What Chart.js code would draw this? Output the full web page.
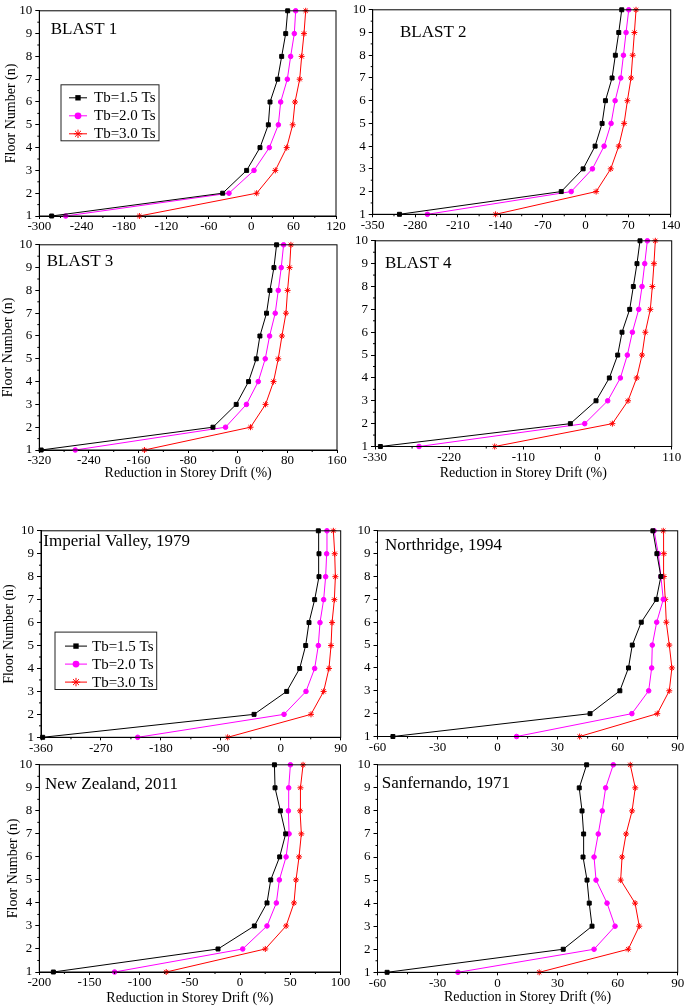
<!DOCTYPE html>
<html>
<head>
<meta charset="utf-8">
<script src="https://cdn.jsdelivr.net/npm/chart.js@4.4.0/dist/chart.umd.min.js"></script>
<style>
  body { margin: 0; background: #fff; width: 685px; height: 1007px; position: relative; overflow: hidden; }
  canvas { position: absolute; }
</style>
</head>
<body>
<script>
// ---- data ----
const floors = [1, 2, 3, 4, 5, 6, 7, 8, 9, 10];
const seriesNames = ['Tb=1.5 Ts', 'Tb=2.0 Ts', 'Tb=3.0 Ts'];
const panelTitles = ['BLAST 1', 'BLAST 2', 'BLAST 3', 'BLAST 4',
    'Imperial Valley, 1979', 'Northridge, 1994', 'New Zealand, 2011', 'Sanfernando, 1971'];
const xMins  = [-300, -350, -320, -330, -360, -60, -200, -60];
const xMaxs  = [120, 140, 160, 110, 90, 90, 100, 90];
const xSteps = [60, 70, 80, 110, 90, 30, 50, 30];

const blast1Tb15 = [-282.5, -40.4, -6.5, 12.4, 24.2, 26.6, 37.4, 43.1, 48.8, 51.6];
const blast1Tb20 = [-262.6, -31.5, 3.9, 25.6, 38.4, 41.7, 51.1, 55.8, 61, 62.9];
const blast1Tb30 = [-158.3, 7.7, 34.1, 50.2, 58.7, 62, 68.6, 71.4, 74.7, 77.1];

const blast2Tb15 = [-306, -40, -4, 15.7, 27.2, 32.7, 43.6, 49, 54.6, 59.5];
const blast2Tb20 = [-260, -23.6, 11.3, 30.5, 42, 48.6, 57.9, 62.3, 66.6, 71];
const blast2Tb30 = [-148, 17.4, 41.4, 54.6, 63.4, 68.8, 74.8, 77.5, 80.3, 83];

const blast3Tb15 = [-317, -40, -2.5, 17.4, 29.8, 35.7, 46.4, 51.8, 58.3, 62.6];
const blast3Tb20 = [-262, -19.7, 14, 33, 44.3, 51.3, 60.4, 65.3, 70.1, 73.9];
const blast3Tb30 = [-150.5, 20.6, 44.8, 57.7, 65.3, 71.2, 77.7, 80.3, 83.6, 85.7];

const blast4Tb15 = [-322, -40.3, -2.2, 17.5, 29.9, 36.3, 47.7, 53.1, 58.5, 63];
const blast4Tb20 = [-264.7, -19, 15.1, 33.9, 44.2, 51.7, 61.1, 66, 70, 73.9];
const blast4Tb30 = [-152.5, 22, 45.2, 58.1, 66, 70.9, 78.3, 81.3, 83.7, 85.7];

const imperialTb15 = [-357.5, -40.1, 8.9, 28.4, 37.4, 42.4, 50.9, 57.4, 57.4, 56.4];
const imperialTb20 = [-214.8, 4.9, 37.9, 50.9, 56.4, 58.9, 64.4, 67.4, 68.9, 69.4];
const imperialTb30 = [-79.7, 45.4, 64.4, 72.4, 75.5, 77, 80.5, 82, 81, 79];

const northridgeTb15 = [-52.3, 46.2, 61.1, 65.4, 67.3, 71.8, 79.3, 81.6, 79.6, 77.6];
const northridgeTb20 = [9.5, 67.1, 75.5, 77, 77.3, 79.5, 82.8, 81.6, 80.3, 78.2];
const northridgeTb30 = [41, 79.8, 85.8, 87.1, 85.8, 84.3, 83.8, 83.1, 83.1, 82.8];

const newZealandTb15 = [-186, -22, 14.2, 26.8, 30.5, 39.4, 45.4, 40.1, 34.8, 34.2];
const newZealandTb20 = [-125, 2.6, 26.8, 36.1, 39.1, 45.8, 48.8, 48.1, 48.4, 50.1];
const newZealandTb30 = [-73.6, 25.1, 45.8, 53.7, 55.7, 58.7, 61, 59.7, 60.1, 62.7];

const sanfernandoTb15 = [-55.2, 32.8, 47.2, 45.8, 44.7, 42.7, 43, 42.2, 40.8, 44.5];
const sanfernandoTb20 = [-19.8, 48.2, 58.7, 54.7, 49.2, 48.2, 50.3, 52.3, 54, 57.8];
const sanfernandoTb30 = [20.8, 65.3, 70.8, 68.7, 61.5, 62.2, 64.2, 67.2, 68.8, 66.3];

const panelSeries = [
    [blast1Tb15, blast1Tb20, blast1Tb30],
    [blast2Tb15, blast2Tb20, blast2Tb30],
    [blast3Tb15, blast3Tb20, blast3Tb30],
    [blast4Tb15, blast4Tb20, blast4Tb30],
    [imperialTb15, imperialTb20, imperialTb30],
    [northridgeTb15, northridgeTb20, northridgeTb30],
    [newZealandTb15, newZealandTb20, newZealandTb30],
    [sanfernandoTb15, sanfernandoTb20, sanfernandoTb30]
];

// ---- styling / layout ----
const FONT = '"Liberation Serif", "Times New Roman", serif';
const colors = ['#000000', '#FF00FF', '#FF0000'];
const pointStyles = ['rect', 'circle', 'star'];
const pointRadii = [2.8, 2.3, 3];
const legendRadii = [3.8, 3.4, 4.2];

// plot-area rectangles in page pixels
const panels = [
    { l: 39.3, t: 8,     r: 336,   b: 216,   hx: 20,   yTitle: true,  yPad: 3.4, xTitle: false, dx: 11.4, dy: 23,
      legend: { dx: 21.7, dy: 74, w: 98, h: 56, first: 13, step: 18, lineDx: 8, lineLen: 18, gap: 7 } },
    { l: 372.7, t: 7,    r: 670.7, b: 214.3, hx: 20,   yTitle: false, xTitle: false, dx: 27.3, dy: 27 },
    { l: 39.3, t: 242.7, r: 337,   b: 450,   hx: 31.7, yTitle: true,  yPad: 0.4, xTitle: true, dx: 7.4, dy: 21.3 },
    { l: 375,  t: 238.5, r: 671.7, b: 446.5, hx: 35.2, yTitle: false, xTitle: true, dx: 10, dy: 27 },
    { l: 41,   t: 528,   r: 340.7, b: 737.3, hx: 20,   yTitle: true,  yPad: 0.7, xTitle: false, dx: 2.3, dy: 15.3,
      legend: { dx: 14, dy: 101.3, w: 101.7, h: 57.4, first: 14, step: 18, lineDx: 10, lineLen: 22, gap: 5 } },
    { l: 377.5, t: 528.3, r: 677.7, b: 736.5, hx: 20,  yTitle: false, xTitle: false, dx: 7.5, dy: 19.4 },
    { l: 39.3, t: 762.7, r: 340.5, b: 972,   hx: 34.7, yTitle: true,  yPad: 5.2, xTitle: true, dx: 5.7, dy: 24 },
    { l: 377.5, t: 762.5, r: 677.7, b: 972.3, hx: 34.1, yTitle: false, xTitle: true, dx: 4.2, dy: 23 }
];

function drawMarker(ctx, style, x, y, r) {
    ctx.beginPath();
    if (style === 'rect') {
        const s = r / Math.SQRT2;
        ctx.rect(x - s, y - s, 2 * s, 2 * s);
        ctx.fill();
    } else if (style === 'circle') {
        ctx.arc(x, y, r, 0, Math.PI * 2);
        ctx.fill();
    } else {
        const d = r / Math.SQRT2;
        ctx.moveTo(x - r, y); ctx.lineTo(x + r, y);
        ctx.moveTo(x, y - r); ctx.lineTo(x, y + r);
        ctx.moveTo(x - d, y - d); ctx.lineTo(x + d, y + d);
        ctx.moveTo(x - d, y + d); ctx.lineTo(x + d, y - d);
        ctx.stroke();
    }
}

// frame, minor ticks, panel name and the boxed legend
const decorPlugin = {
    id: 'decor',
    afterDraw(chart, args, opts) {
        const ctx = chart.ctx;
        const a = chart.chartArea;
        const xs = chart.scales.x, ys = chart.scales.y;
        ctx.save();
        ctx.strokeStyle = '#000';
        ctx.lineWidth = 1;
        ctx.strokeRect(a.left, a.top, a.right - a.left, a.bottom - a.top);

        ctx.beginPath();
        for (let v = xs.min + opts.step / 2; v < xs.max; v += opts.step) {
            const px = xs.getPixelForValue(v);
            ctx.moveTo(px, a.bottom);
            ctx.lineTo(px, a.bottom + 2);
        }
        for (let v = ys.min + 0.5; v < ys.max; v += 1) {
            const py = ys.getPixelForValue(v);
            ctx.moveTo(a.left, py);
            ctx.lineTo(a.left - 2, py);
        }
        ctx.stroke();

        ctx.fillStyle = '#000';
        ctx.font = '17px ' + FONT;
        ctx.textBaseline = 'alphabetic';
        ctx.textAlign = 'left';
        ctx.fillText(opts.label, a.left + opts.dx, a.top + opts.dy);

        const lg = opts.legend;
        if (lg) {
            const bx = a.left + lg.dx, by = a.top + lg.dy;
            ctx.fillStyle = '#fff';
            ctx.fillRect(bx, by, lg.w, lg.h);
            ctx.strokeStyle = '#222';
            ctx.strokeRect(bx, by, lg.w, lg.h);
            ctx.font = '15px ' + FONT;
            ctx.textBaseline = 'middle';
            chart.data.datasets.forEach((ds, i) => {
                const cy = by + lg.first + i * lg.step;
                const x0 = bx + lg.lineDx, x1 = x0 + lg.lineLen;
                ctx.strokeStyle = ds.borderColor;
                ctx.fillStyle = ds.borderColor;
                ctx.beginPath();
                ctx.moveTo(x0, cy);
                ctx.lineTo(x1, cy);
                ctx.stroke();
                drawMarker(ctx, ds.pointStyle, (x0 + x1) / 2, cy, legendRadii[i]);
                ctx.fillStyle = '#000';
                ctx.fillText(ds.label, x1 + lg.gap, cy + 0.5);
            });
        }
        ctx.restore();
    }
};

panels.forEach((p, k) => {
    const left = p.yTitle ? 0 : Math.floor(p.l) - 32;
    const top = Math.floor(p.t) - 8;
    const right = Math.ceil(p.r) + 15;
    const bottom = Math.min(1007, Math.round(p.b + p.hx));
    const wy = p.l - left, padTop = p.t - top, padRight = right - p.r, hx = bottom - p.b;

    const canvas = document.createElement('canvas');
    canvas.width = right - left;
    canvas.height = bottom - top;
    canvas.style.left = left + 'px';
    canvas.style.top = top + 'px';
    document.body.appendChild(canvas);

    const datasets = panelSeries[k].map((vals, i) => ({
        label: seriesNames[i],
        data: floors.map((f, j) => ({ x: vals[j], y: f })),
        showLine: true,
        borderColor: colors[i],
        backgroundColor: colors[i],
        pointBackgroundColor: colors[i],
        pointBorderColor: colors[i],
        borderWidth: 1,
        pointBorderWidth: 1,
        pointStyle: pointStyles[i],
        pointRadius: pointRadii[i],
        tension: 0,
        clip: false
    }));

    new Chart(canvas.getContext('2d'), {
        type: 'scatter',
        data: { datasets },
        options: {
            responsive: false,
            animation: false,
            events: [],
            layout: { padding: { top: padTop, right: padRight, left: 0, bottom: 0 } },
            scales: {
                x: {
                    type: 'linear',
                    min: xMins[k],
                    max: xMaxs[k],
                    ticks: { stepSize: xSteps[k], autoSkip: false, maxRotation: 0, padding: 0,
                             color: '#000', font: { family: FONT, size: 13 } },
                    grid: { drawOnChartArea: false, drawTicks: true, tickLength: 3, color: '#000', tickColor: '#000' },
                    border: { display: true, color: '#000' },
                    title: { display: p.xTitle, text: 'Reduction in Storey Drift (%)', color: '#000',
                             font: { family: FONT, size: 14 }, padding: 0 },
                    afterFit(s) { s.height = hx; }
                },
                y: {
                    type: 'linear',
                    min: 1,
                    max: 10,
                    ticks: { stepSize: 1, autoSkip: false, padding: 3,
                             color: '#000', font: { family: FONT, size: 13 } },
                    grid: { drawOnChartArea: false, drawTicks: true, tickLength: 4, color: '#000', tickColor: '#000' },
                    border: { display: true, color: '#000' },
                    title: { display: p.yTitle, text: 'Floor Number (n)', color: '#000',
                             font: { family: FONT, size: 14 }, padding: { top: p.yPad || 0, bottom: 0 } },
                    afterFit(s) { s.width = wy; }
                }
            },
            plugins: {
                legend: { display: false },
                tooltip: { enabled: false },
                decor: { label: panelTitles[k], dx: p.dx, dy: p.dy, step: xSteps[k], legend: p.legend || null }
            }
        },
        plugins: [decorPlugin]
    });
});
</script>
</body>
</html>
